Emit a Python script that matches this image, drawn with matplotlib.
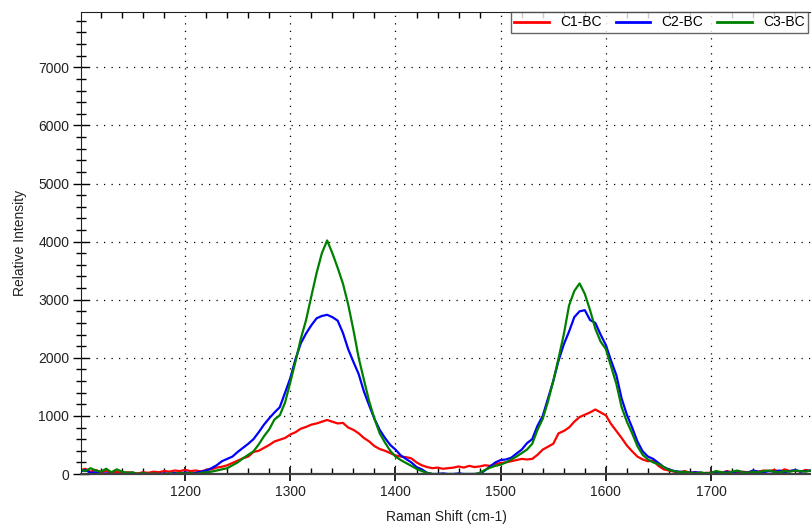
import numpy as np
import matplotlib
matplotlib.use("Agg")
import matplotlib.pyplot as plt
from matplotlib.ticker import MultipleLocator

plt.rcParams["font.family"] = ["Liberation Sans", "DejaVu Sans"]

# Raman shift grid, 5 cm-1 steps from 1100 to 1795 (one row = 100 cm-1)
shift = np.arange(1100, 1800, 5)

c1_bc = [
    60, 90, 40, 70, 30,  50, 20, 40, 10, 30,  20, 10, 30, 20, 40,  30, 50, 40, 60, 50,
    70, 50, 60, 45, 70,  80, 110, 125, 150, 190,  230, 270, 300, 380, 400,  450, 500, 560, 590, 620,
    680, 720, 780, 810, 850,  870, 900, 930, 900, 870,  880, 800, 760, 700, 620,  560, 480, 430, 400, 360,
    320, 300, 290, 270, 200,  150, 120, 100, 110, 90,  100, 110, 130, 110, 140,  120, 130, 150, 140, 170,
    190, 200, 220, 240, 260,  250, 260, 330, 420, 470,  520, 700, 740, 800, 900,  980, 1020, 1060, 1110, 1060,
    1010, 860, 740, 620, 490,  390, 300, 250, 220, 230,  140, 80, 60, 40, 30,  50, 20, 30, 10, 20,
    20, 40, 20, 50, 30,  20, 40, 30, 50, 40,  60, 50, 70, 40, 80,  50, 60, 40, 70, 50,
]

c2_bc = [
    40, 70, 20, 30, 0,  10, 0, 0, 0, 0,  0, 0, 0, 0, 0,  0, 10, 0, 20, 0,
    30, 10, 20, 40, 60,  100, 150, 220, 260, 300,  380, 450, 520, 600, 720,  850, 960, 1060, 1150, 1400,
    1650, 1980, 2250, 2420, 2560,  2680, 2720, 2740, 2700, 2640,  2430, 2150, 1930, 1720, 1420,  1180, 950, 760, 620, 500,
    420, 320, 260, 200, 120,  80, 20, 0, 0, 10,  0, 0, 10, 0, 0,  0, 0, 60, 130, 200,
    240, 250, 280, 350, 420,  530, 600, 830, 1000, 1300,  1600, 1950, 2230, 2450, 2700,  2800, 2820, 2650, 2600, 2400,
    2220, 1950, 1700, 1300, 1020,  800, 560, 390, 300, 260,  190, 120, 80, 50, 40,  30, 20, 30, 20, 10,
    20, 30, 10, 40, 20,  50, 30, 20, 60, 40,  30, 50, 40, 60, 30,  50, 70, 40, 50, 60,
]

c3_bc = [
    80, 50, 100, 60, 40,  90, 30, 80, 40, 20,  30, 0, 20, 0, 10,  0, 0, 10, 0, 20,
    10, 20, 0, 20, 30,  40, 60, 80, 100, 150,  200, 270, 330, 390, 510,  650, 770, 940, 1010, 1230,
    1580, 1940, 2330, 2650, 3060,  3460, 3800, 4020, 3800, 3550,  3280, 2920, 2480, 2000, 1620,  1250, 950, 700, 540, 400,
    300, 240, 190, 140, 90,  50, 20, 0, 0, 0,  0, 0, 0, 0, 0,  0, 20, 70, 110, 140,
    160, 200, 250, 300, 360,  420, 520, 760, 950, 1250,  1600, 1990, 2400, 2900, 3150,  3280, 3100, 2820, 2500, 2280,
    2150, 1850, 1550, 1150, 900,  700, 480, 330, 250, 200,  170, 120, 70, 50, 30,  40, 20, 10, 30, 10,
    20, 50, 30, 20, 40,  60, 30, 20, 40, 30,  50, 60, 40, 30, 50,  40, 60, 50, 40, 60,
]

series = [("C1-BC", c1_bc, "#ff0000"), ("C2-BC", c2_bc, "#0000ff"), ("C3-BC", c3_bc, "#008000")]

fig = plt.figure(figsize=(8.12, 5.24), dpi=100)
ax = fig.add_axes([81 / 812, 1 - 474 / 524, 1 - 81 / 812, (474 - 12) / 524])

for name, vals, col in series:
    ax.plot(shift[:len(vals)], vals, color=col, lw=1.6, label=name)

ax.set_xlim(1101, 1796)
ax.set_ylim(0, 7952)
ax.xaxis.set_major_locator(MultipleLocator(100))
ax.xaxis.set_minor_locator(MultipleLocator(20))
ax.yaxis.set_major_locator(MultipleLocator(1000))
ax.yaxis.set_minor_locator(MultipleLocator(200))

ax.grid(True, which="major", color="black", linestyle=(0, (1, 5)), linewidth=0.9)

ax.tick_params(axis="x", which="major", direction="inout", length=10, width=1.2,
               top=False, labelsize=10, labelcolor="#222222", pad=3)
ax.tick_params(axis="x", which="minor", direction="in", length=4, width=1, top=True)
ax.tick_params(axis="y", which="major", direction="inout", length=11, width=1,
               labelsize=10, labelcolor="#222222", pad=3)
ax.tick_params(axis="y", which="minor", direction="inout", length=7, width=1)

ax.spines["right"].set_visible(False)
ax.spines["bottom"].set_color("#404040")
ax.spines["bottom"].set_linewidth(1.6)
ax.spines["left"].set_color("#202020")
ax.spines["top"].set_color("#202020")

ax.set_xlabel("Raman Shift (cm-1)", fontsize=10, color="#222222", labelpad=8)
ax.set_ylabel("Relative Intensity", fontsize=10, color="#222222", labelpad=8)

leg = ax.legend(loc="upper left", bbox_to_anchor=((511 - 81) / 731, 1.0), ncol=3,
                fontsize=10, frameon=True, fancybox=False, borderaxespad=0,
                handlelength=2.5, handletextpad=0.8, columnspacing=1.0,
                borderpad=0.25)
leg.get_frame().set_edgecolor("#404040")
leg.get_frame().set_linewidth(1.0)
for h in leg.get_lines():
    h.set_linewidth(2)

fig.savefig("out.png", dpi=100)
